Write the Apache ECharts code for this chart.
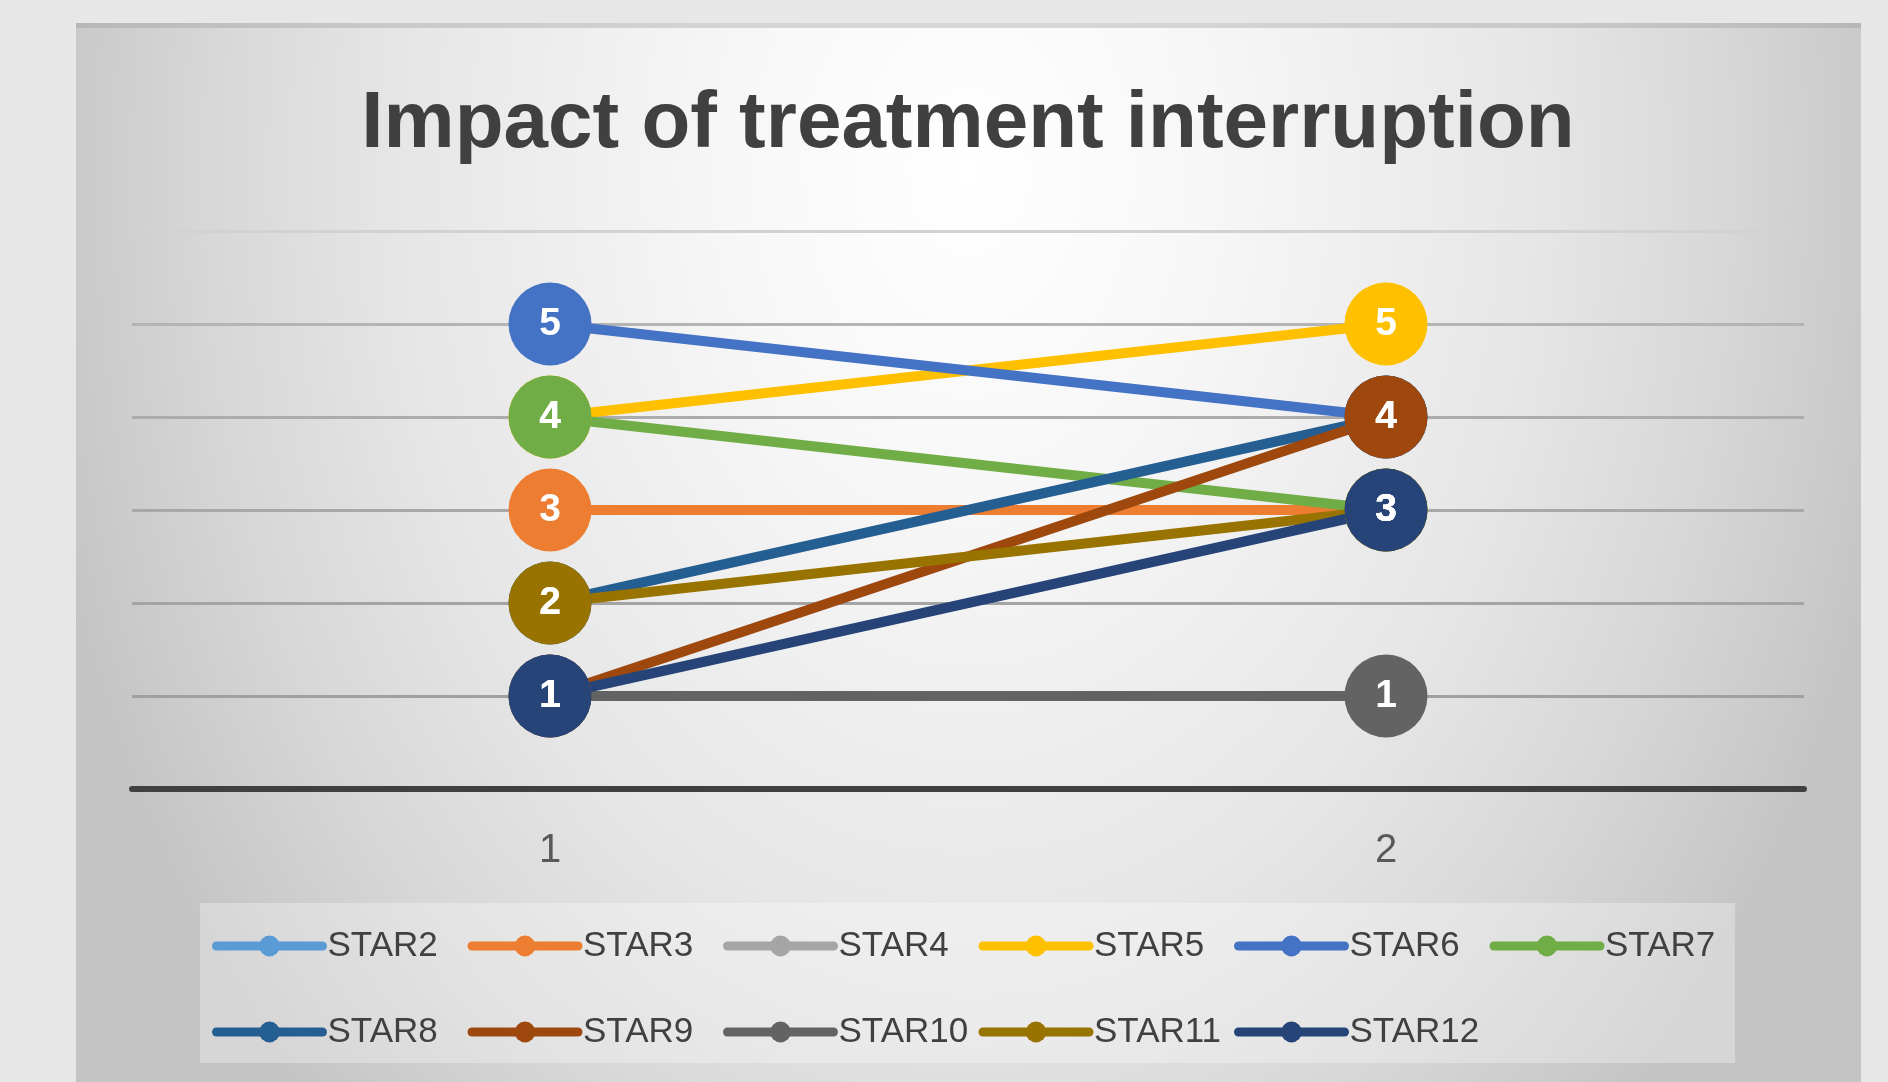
<!DOCTYPE html>
<html>
<head>
<meta charset="utf-8">
<script src="https://cdn.jsdelivr.net/npm/echarts@6/dist/echarts.min.js"></script>
<style>
html,body{margin:0;padding:0;background:#e7e7e7;}
#c{width:1888px;height:1082px;}
</style>
</head>
<body>
<div id="c"></div>
<script>
var titleText = 'Impact of treatment interruption';
var categories = ['1', '2'];
var seriesNames = ['STAR2','STAR3','STAR4','STAR5','STAR6','STAR7','STAR8','STAR9','STAR10','STAR11','STAR12'];
var seriesColors = ['#5B9BD5','#ED7D31','#A5A5A5','#FFC000','#4472C4','#70AD47','#255E91','#9E480E','#636363','#997300','#264478'];
var STAR2 = [null, null];
var STAR3 = [3, 3];
var STAR4 = [null, null];
var STAR5 = [4, 5];
var STAR6 = [5, 4];
var STAR7 = [4, 3];
var STAR8 = [2, 4];
var STAR9 = [1, 4];
var STAR10 = [1, 1];
var STAR11 = [2, 3];
var STAR12 = [1, 3];
var seriesValues = [STAR2, STAR3, STAR4, STAR5, STAR6, STAR7, STAR8, STAR9, STAR10, STAR11, STAR12];

var sans = "'Liberation Sans', Arial, sans-serif";

var chart = echarts.init(document.getElementById('c'), null, {renderer: 'canvas'});

var series = seriesNames.map(function (name, i) {
  return {
    name: name,
    type: 'line',
    data: seriesValues[i],
    symbol: 'circle',
    symbolSize: 83,
    color: seriesColors[i],
    lineStyle: {width: 10, color: seriesColors[i]},
    itemStyle: {color: seriesColors[i]},
    label: {
      show: true,
      position: 'inside',
      color: '#ffffff',
      fontSize: 39,
      fontWeight: 'bold',
      fontFamily: sans
    },
    emphasis: {disabled: true},
    silent: true,
    animation: false
  };
});

// elliptical background gradient: rect scaled vertically
var bgH = 1060, sy = 1.37, hs = bgH / sy;

var option = {
  backgroundColor: '#e7e7e7',
  animation: false,
  graphic: [
    {
      type: 'rect', z: -10, silent: true,
      x: 76, y: 23, scaleY: sy,
      shape: {x: 0, y: 0, width: 1785, height: hs},
      style: {
        fill: new echarts.graphic.RadialGradient(0.5, 0.14, 1.23, [
          {offset: 0, color: '#ffffff'},
          {offset: 0.25, color: '#f7f7f7'},
          {offset: 0.6, color: '#e6e6e6'},
          {offset: 0.8, color: '#d7d7d7'},
          {offset: 0.95, color: '#c9c9c9'},
          {offset: 1, color: '#c4c4c4'}
        ])
      }
    },
    {
      type: 'rect', z: -9, silent: true,
      shape: {x: 76, y: 23, width: 1785, height: 5},
      style: {fill: 'rgba(150,150,150,0.35)'}
    },
    {
      type: 'rect', z: -8, silent: true,
      shape: {x: 200, y: 903, width: 1535, height: 160},
      style: {fill: 'rgba(255,255,255,0.3)'}
    }
  ],
  title: {
    text: titleText,
    left: 968,
    textAlign: 'center',
    top: 85,
    padding: 0,
    textStyle: {
      fontFamily: sans,
      fontWeight: 'bold',
      fontSize: 80,
      color: '#404040'
    }
  },
  legend: {
    data: seriesNames,
    left: 200,
    top: 908,
    width: 1570,
    orient: 'horizontal',
    itemWidth: 106,
    itemHeight: 26,
    itemGap: 10,
    padding: [0, 0, 0, 12],
    selectedMode: false,
    lineStyle: {width: 9, cap: 'round'},
    textStyle: {
      fontFamily: sans,
      fontSize: 35,
      color: '#404040',
      width: 130,
      lineHeight: 76
    }
  },
  grid: {left: 132, right: 84, top: 231, bottom: 293, containLabel: false},
  xAxis: {
    type: 'category',
    data: categories,
    boundaryGap: true,
    axisLine: {show: true, lineStyle: {color: '#404040', width: 6}},
    axisTick: {show: false},
    axisLabel: {fontFamily: sans, fontSize: 40, color: '#595959', margin: 42},
    splitLine: {show: false}
  },
  yAxis: {
    type: 'value',
    min: 0,
    max: 6,
    interval: 1,
    axisLine: {show: false},
    axisTick: {show: false},
    axisLabel: {show: false},
    splitLine: {
      show: true,
      lineStyle: {
        width: 3,
        color: ['#a0a0a0', '#a0a0a0', '#a4a4a4', '#a8a8a8', '#acacac', '#b4b4b4', '#d2d2d2']
      }
    }
  },
  series: series
};

chart.setOption(option);
</script>
</body>
</html>
